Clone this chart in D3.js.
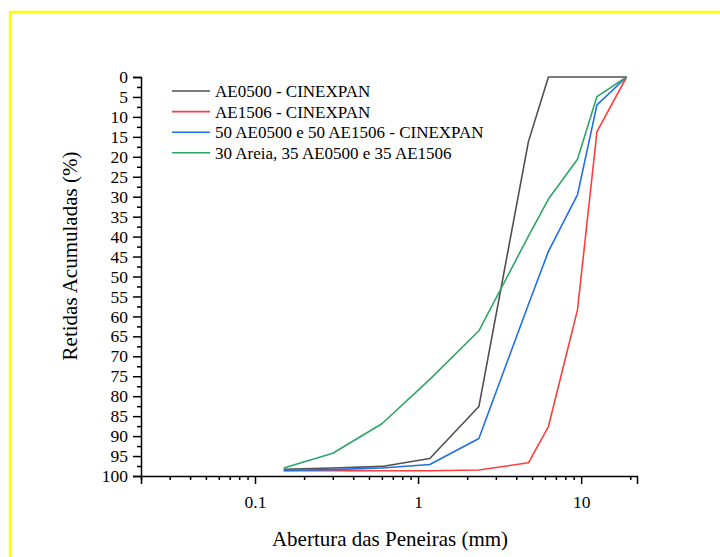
<!DOCTYPE html>
<meta charset="utf-8">
<script src="https://d3js.org/d3.v7.min.js"></script>
<style>
  body { margin: 0; background: #fff; }
</style>
<div id="my_dataviz"></div>
<script>

// sieve openings (mm) and cumulative retained (%)
var sieves = [0.15, 0.3, 0.6, 1.18, 2.36, 4.75, 6.3, 9.5, 12.5, 19];
var ae0500 = [98.3, 98.0, 97.6, 95.6, 82.6, 16.2, 0, 0, 0, 0];
var ae1506 = [98.7, 98.7, 98.7, 98.7, 98.5, 96.7, 87.6, 58.3, 13.7, 0];
var mix5050 = [98.6, 98.4, 98.0, 97.1, 90.6, 57.0, 43.7, 29.5, 7.0, 0];
var areia = [98.0, 94.3, 86.9, 75.8, 63.6, 39.9, 30.6, 20.6, 4.9, 0];

var seriesNames = ["AE0500 - CINEXPAN", "AE1506 - CINEXPAN",
                   "50 AE0500 e 50 AE1506 - CINEXPAN", "30 Areia, 35 AE0500 e 35 AE1506"];
var seriesColors = ["#505050", "#ff3d3d", "#1f6fe8", "#2ea567"];
var seriesValues = [ae0500, ae1506, mix5050, areia];

var yTicks = d3.range(0, 101, 5);
var xTickLabels = [0.1, 1, 10];

var font = "Liberation Serif";

var margin = {top: 77, right: 83, bottom: 81, left: 141},
    width = 720 - margin.left - margin.right,
    height = 557 - margin.top - margin.bottom;

var svg = d3.select("#my_dataviz")
  .append("svg")
    .attr("width", 720)
    .attr("height", 557)
    .attr("font-family", font);

// yellow frame
svg.append("rect")
  .attr("x", 10).attr("y", 12)
  .attr("width", 740).attr("height", 600)
  .attr("fill", "none")
  .attr("stroke", "#ffff00")
  .attr("stroke-width", 2.5);

var g = svg.append("g")
  .attr("transform", "translate(" + margin.left + "," + margin.top + ")");

var x = d3.scaleLog()
  .domain([0.02, 22])
  .range([0, width]);

var y = d3.scaleLinear()
  .domain([0, 100])
  .range([0, height]);

// Y axis (inverted: 0 on top)
var yAxis = g.append("g")
  .call(d3.axisLeft(y).tickValues(yTicks).tickSize(8).tickPadding(5).tickFormat(d3.format("d")));
yAxis.attr("font-family", font).attr("font-size", 17.5);
yAxis.select(".domain").attr("stroke-width", 1.5);
yAxis.selectAll(".tick line").attr("stroke-width", 1.5);

// minor y ticks
g.append("g")
  .call(d3.axisLeft(y).tickValues(d3.range(2.5, 100, 5)).tickSize(4).tickFormat(""))
  .call(function(s) { s.select(".domain").remove(); s.selectAll("line").attr("stroke-width", 1.5); });

// X axis (log)
var minorX = [];
[0.01, 0.1, 1, 10].forEach(function(dec) {
  for (var k = 2; k <= 9; k++) {
    var v = dec * k;
    if (v >= 0.02 && v <= 22 && xTickLabels.indexOf(v) < 0) minorX.push(+v.toPrecision(3));
  }
});

var xAxis = g.append("g")
  .attr("transform", "translate(0," + height + ")")
  .call(d3.axisBottom(x).tickValues(xTickLabels).tickSize(8).tickPadding(12)
          .tickFormat(function(d) { return String(d); }));
xAxis.attr("font-family", font).attr("font-size", 17.5);
xAxis.select(".domain").attr("stroke-width", 1.5);
xAxis.selectAll(".tick line").attr("stroke-width", 1.5);

g.append("g")
  .attr("transform", "translate(0," + height + ")")
  .call(d3.axisBottom(x).tickValues(minorX).tickSize(4).tickFormat(""))
  .call(function(s) { s.select(".domain").remove(); s.selectAll("line").attr("stroke-width", 1.5); });

// axis titles
svg.append("text")
  .attr("text-anchor", "middle")
  .attr("font-family", font)
  .attr("font-size", 21)
  .attr("x", 390)
  .attr("y", 546)
  .text("Abertura das Peneiras (mm)");

svg.append("text")
  .attr("text-anchor", "middle")
  .attr("font-family", font)
  .attr("font-size", 21)
  .attr("transform", "translate(77,256) rotate(-90)")
  .text("Retidas Acumuladas (%)");

// lines
var line = d3.line()
  .x(function(d, i) { return x(sieves[i]); })
  .y(function(d) { return y(d); });

seriesValues.forEach(function(vals, k) {
  g.append("path")
    .datum(vals)
    .attr("fill", "none")
    .attr("stroke", seriesColors[k])
    .attr("stroke-width", 1.6)
    .attr("stroke-linejoin", "round")
    .attr("d", line);
});

// legend
var legend = svg.append("g");
seriesNames.forEach(function(name, k) {
  var ly = 91 + k * 20.6;
  legend.append("line")
    .attr("x1", 172).attr("x2", 210)
    .attr("y1", ly).attr("y2", ly)
    .attr("stroke", seriesColors[k])
    .attr("stroke-width", 1.6);
  legend.append("text")
    .attr("x", 215)
    .attr("y", ly)
    .attr("dy", "0.35em")
    .attr("font-family", font)
    .attr("font-size", 17)
    .text(name);
});

</script>
